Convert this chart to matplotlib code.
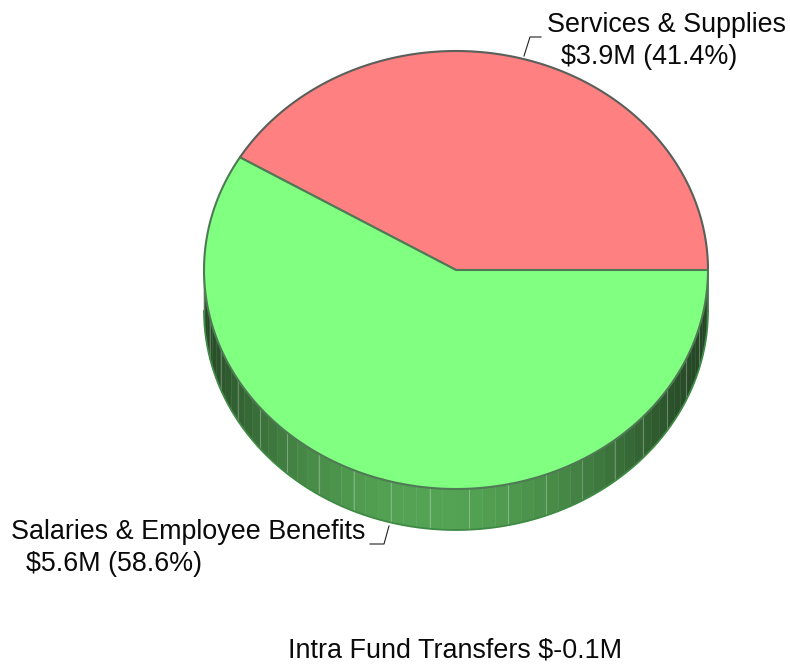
import numpy as np
import matplotlib
matplotlib.use("Agg")
import matplotlib.pyplot as plt
from matplotlib.patches import Polygon

# Values, $M
labels = ["Services & Supplies", "Salaries & Employee Benefits"]
amounts = [3.9, 5.6]
percents = [41.4, 58.6]
top_colors = ["#ff8080", "#80ff80"]
footer = "Intra Fund Transfers $-0.1M"

plt.rcParams["font.family"] = ["Liberation Sans", "DejaVu Sans"]

fig = plt.figure(figsize=(7.9, 6.64), dpi=100)
ax = fig.add_axes([0, 0, 1, 1])
ax.set_xlim(0, 790)
ax.set_ylim(664, 0)
ax.axis("off")

# Pie geometry in pixels
cx, cy = 456, 270
rx, ry = 252, 219
depth = 41


def ellipse(deg, dy=0):
    a = np.radians(deg)
    return np.column_stack([cx + rx * np.cos(a), cy - ry * np.sin(a) + dy])


# Side wall, drawn as shaded facets along the front half
step = 3
for i, start in enumerate(np.arange(180, 360, step)):
    arc = np.linspace(start, start + step, 4)
    pts = np.vstack([ellipse(arc), ellipse(arc[::-1], depth)])
    mid = np.radians(start + step / 2 + 6)
    k = 0.42 + 0.58 * abs(np.sin(mid)) ** 2.2
    color = (0.33 * k, 0.64 * k, 0.33 * k)
    ax.add_patch(Polygon(pts, closed=True, facecolor=color, edgecolor=color, lw=0.3, zorder=1))
    if i % 3 == 1:
        seam = ellipse(np.array([start]))[0]
        ax.plot([seam[0], seam[0]], [seam[1], seam[1] + depth], color="white",
                alpha=0.25, lw=0.8, zorder=2)

rim = np.linspace(180, 360, 200)
ax.plot(*ellipse(rim, depth).T, color="#3f8a45", lw=1.3, zorder=3)
p = ellipse(np.array([360]))[0]
ax.plot([p[0], p[0]], [p[1], p[1] + depth], color="#3a7a40", lw=1.2, zorder=3)

# Top face, angles come from the percentages
edge_colors = ["#5a5f5a", "#4f7a55"]
angle = 0
for pct, col, edge in zip(percents, top_colors, edge_colors):
    sweep = pct / sum(percents) * 360
    arc = np.linspace(angle, angle + sweep, 200)
    pts = np.vstack([[cx, cy], ellipse(arc)])
    ax.add_patch(Polygon(pts, closed=True, facecolor=col, edgecolor=edge, lw=1.5, zorder=4,
                         joinstyle="round"))
    angle += sweep

# Labels and their leader lines
ax.plot([524, 530, 541], [56, 37, 37], color="#222222", lw=0.8)
ax.plot([370, 384, 389], [544, 544, 526], color="#222222", lw=0.8)

fs = 19.4
ax.text(547, 25, labels[0], fontsize=fs, ha="left", va="center", color="#0a0a0a")
ax.text(561, 57, f"${amounts[0]}M ({percents[0]}%)", fontsize=fs, ha="left", va="center", color="#0a0a0a")
ax.text(11, 532, labels[1], fontsize=fs, ha="left", va="center", color="#0a0a0a")
ax.text(26, 564, f"${amounts[1]}M ({percents[1]}%)", fontsize=fs, ha="left", va="center", color="#0a0a0a")
ax.text(288, 651, footer, fontsize=fs, ha="left", va="center", color="#0a0a0a")

fig.savefig("out.png", dpi=100)
